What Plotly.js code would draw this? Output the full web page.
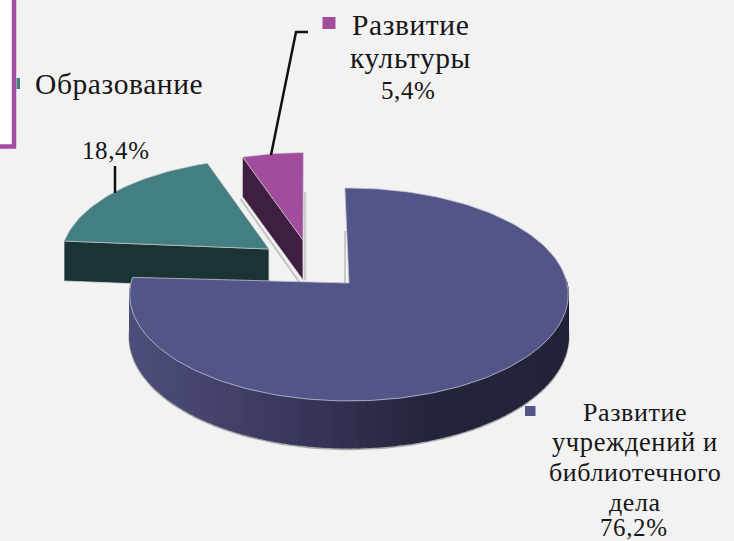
<!DOCTYPE html>
<html>
<head>
<meta charset="utf-8">
<script src="https://cdn.plot.ly/plotly-3.0.1.min.js"></script>
<style>html,body{margin:0;padding:0;background:#f2f2f2}#chart{width:734px;height:541px}
.annotation-text{letter-spacing:0.6px}</style>
</head>
<body>
<div id="chart"></div>
<script>
// Data
var categories = ["Развитие учреждений и библиотечного дела", "Образование", "Развитие культуры"];
var values = [76.2, 18.4, 5.4];
var topColors = ["#535488", "#437e82", "#a24c9e"];
var sideColors = ["#2a2a4c", "#1a3333", "#3f1f40"];

// Projection of the tilted pie
var START = -1.2;
var slices = [
  {ax: 349, ay: 283, scale: 1,    depth: 44, rot: 0},
  {ax: 269, ay: 249, scale: 0.95, depth: 40, rot: 1.5},
  {ax: 303, ay: 240, scale: 0.92, depth: 40, rot: 1.3}
];
var RX = 218, RY = 105.2, K = 0.108;
function proj(s, deg) {
  var t = (deg + s.rot) * Math.PI / 180, u = Math.cos(t), w = 1 + K * u;
  return [s.ax + s.scale * RX * Math.sin(t) / w, s.ay - s.scale * RY * u / w];
}
function arc(s, a0, a1) {
  var pts = [], n = Math.max(8, Math.round(Math.abs(a1 - a0) / 1.5));
  for (var i = 0; i <= n; i++) pts.push(proj(s, a0 + (a1 - a0) * i / n));
  return pts;
}
function poly(pts, fill, line, lw) {
  return {x: pts.map(function (p) { return p[0]; }), y: pts.map(function (p) { return p[1]; }),
    mode: "lines", fill: "toself", fillcolor: fill, hoverinfo: "skip", showlegend: false,
    line: {color: line || fill, width: lw === undefined ? 0.5 : lw}};
}
function down(p, d) { return [p[0], p[1] + d]; }
function mix(a, b, f) {
  return "rgb(" + a.map(function (v, i) { return Math.round(v + (b[i] - v) * f); }).join(",") + ")";
}
var angles = [], acc = START;
values.forEach(function (v) { angles.push([acc, acc + v * 3.6]); acc += v * 3.6; });

var traces = [];
// Soft shadows next to the exploded slices
[1, 2].forEach(function (i) {
  var s = slices[i], a = angles[i], apex = [s.ax, s.ay], left = proj(s, a[0]);
  var pts = [left, apex, down(apex, s.depth), down(left, s.depth)];
  if (i === 2) {
    var sh = [down(left, s.depth + 1), down(apex, s.depth + 1)];
    traces.push({x: [sh[0][0] - 2, sh[1][0] - 3], y: [sh[0][1] + 1, sh[1][1] + 2], mode: "lines",
      line: {color: "#c4c4c4", width: 2}, hoverinfo: "skip", showlegend: false});
    traces.push({x: [apex[0] + 2, apex[0] + 2], y: [apex[1] - 48, apex[1] + s.depth], mode: "lines",
      line: {color: "#cdcdcd", width: 2.5}, hoverinfo: "skip", showlegend: false});
  }
  traces.push(poly(pts, sideColors[i], "#d9d9d9", 0.8));
  traces.push(poly([apex].concat(arc(s, a[0], a[1])).concat([apex]), topColors[i], "#c9c9c9", 0.6));
});
// Main slice: shaded rim
var m = slices[0], ma = angles[0], stops = [[78, 78, 124], [58, 58, 96], [36, 36, 60], [34, 34, 56]];
var rim0 = 88, rim1 = ma[1] - 2, N = 90;
function rimDepth(deg) { var u = Math.cos(deg * Math.PI / 180); return 41 + 6 * Math.max(0, -u); }
var shadow = [];
for (var q = 0; q <= N; q++) {
  var dq = rim0 + (rim1 - rim0) * q / N;
  shadow.push(down(proj(m, dq), rimDepth(dq) + 1));
}
traces.push({x: shadow.map(function (p) { return p[0]; }), y: shadow.map(function (p) { return p[1]; }),
  mode: "lines", line: {color: "#a9a9a9", width: 2.5}, hoverinfo: "skip", showlegend: false});
for (var j = 0; j < N; j++) {
  var d0 = rim1 - (rim1 - rim0) * j / N, d1 = rim1 - (rim1 - rim0) * (j + 1) / N;
  var p0 = proj(m, d0), p1 = proj(m, d1);
  var f = Math.max(0, Math.min(0.999, (p0[0] - 130) / 438)) * (stops.length - 1);
  var k = Math.floor(f);
  traces.push(poly([p0, p1, down(p1, rimDepth(d1)), down(p0, rimDepth(d0)), p0], mix(stops[k], stops[k + 1], f - k), null, 1.2));
}
var apex0 = [m.ax, m.ay];
traces.push({x: [apex0[0] - 4, apex0[0] - 4], y: [apex0[1] - 52, apex0[1]], mode: "lines",
  line: {color: "#bdbdbd", width: 1.5}, hoverinfo: "skip", showlegend: false});
traces.push(poly([apex0].concat(arc(m, ma[0], ma[1])).concat([apex0]), topColors[0], "#c4c4d0", 0.8));

function pct(v) { return v.toFixed(1).replace(".", ",") + "%"; }
var font = {family: "Liberation Serif, serif", color: "#161616"};
function note(x, y, text, size, anchor) {
  return {x: x, y: y, xref: "x", yref: "y", text: text, showarrow: false, xanchor: anchor || "center", yanchor: "middle",
    align: "center", font: {family: font.family, size: size, color: font.color}};
}
var layout = {
  width: 734, height: 541, margin: {l: 0, r: 0, t: 0, b: 0},
  paper_bgcolor: "#f2f2f2", plot_bgcolor: "#f2f2f2", showlegend: false,
  xaxis: {range: [0, 734], visible: false, fixedrange: true},
  yaxis: {range: [541, 0], visible: false, fixedrange: true},
  shapes: [
    {type: "rect", x0: -6, x1: 14, y0: -6, y1: 146.5, fillcolor: "#ffffff", line: {color: "#a34ea0", width: 4.5}},
    {type: "rect", x0: 16.5, x1: 20, y0: 78, y1: 89, fillcolor: topColors[1], line: {width: 0}},
    {type: "rect", x0: 322.5, x1: 335.5, y0: 17, y1: 29, fillcolor: topColors[2], line: {width: 0}},
    {type: "rect", x0: 525, x1: 535.5, y0: 406, y1: 416, fillcolor: topColors[0], line: {width: 0}},
    {type: "line", x0: 115, x1: 115, y0: 166, y1: 193, line: {color: "#111", width: 2.5}},
    {type: "path", path: "M 271 155 L 296 32 L 308 32", line: {color: "#111", width: 2.5}}
  ],
  annotations: [
    note(33, 84, categories[1], 29.5, "left"),
    note(116, 150, pct(values[1]), 25),
    note(410, 25, "Развитие", 29.5),
    note(410, 58, "культуры", 29.5),
    note(408, 90, pct(values[2]), 25),
    note(635, 412, "Развитие", 26),
    note(635, 442, "учреждений и", 26.5),
    note(635, 472, "библиотечного", 26),
    note(635, 502, "дела", 26),
    note(634, 527, pct(values[0]), 25)
  ]
};
Plotly.newPlot("chart", traces, layout, {staticPlot: true, displayModeBar: false});
</script>
</body>
</html>
